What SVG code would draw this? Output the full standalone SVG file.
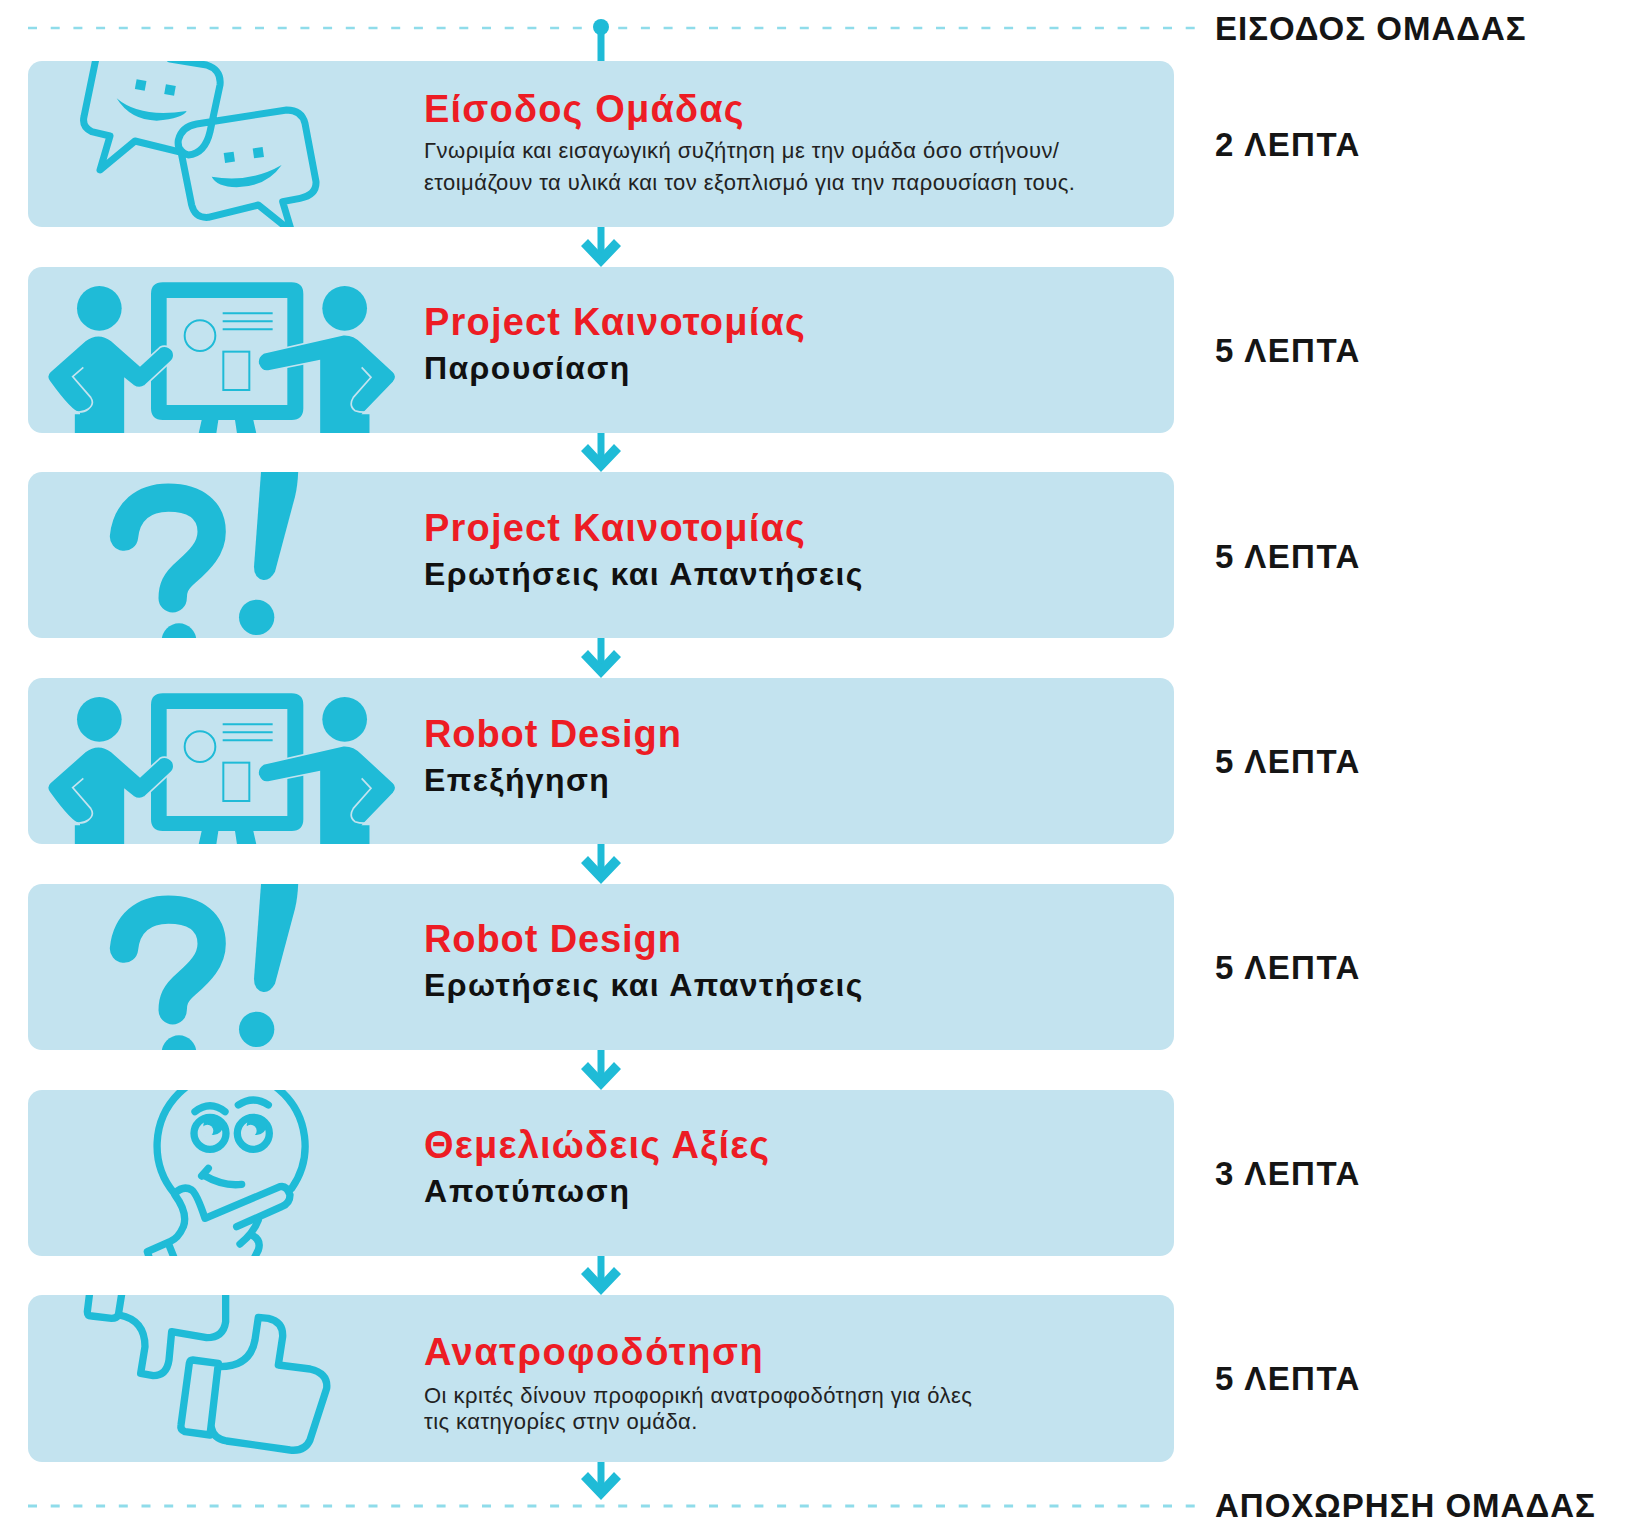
<svg xmlns="http://www.w3.org/2000/svg" xmlns:xlink="http://www.w3.org/1999/xlink" width="1632" height="1519" viewBox="0 0 1632 1519">
<style>
text{font-family:"Liberation Sans",Arial,sans-serif}
.box{fill:#c3e3ef}
.t{font-size:38px;font-weight:700;fill:#ed1c24;letter-spacing:1.2px}
.s{font-size:32px;font-weight:700;fill:#111;letter-spacing:1.4px}
.d{font-size:22px;fill:#222;letter-spacing:.45px}
.r{font-size:33px;font-weight:700;fill:#151515;letter-spacing:1px}
.m{letter-spacing:1.45px}
.i{fill:#1fbbd7}
.o{fill:none;stroke:#1fbbd7;stroke-linejoin:round;stroke-linecap:round}
.dash{fill:none;stroke:#8fdcea;stroke-dasharray:9 13.7}
.c{fill:none;stroke:#1fbbd7;stroke-width:7}
</style>
<defs>
<clipPath id="clip"><rect x="28" y="0" width="1146" height="166" rx="14"/></clipPath>
<marker id="arrow" markerUnits="userSpaceOnUse" markerWidth="44" markerHeight="34" viewBox="-22 -30 44 34" refX="0" refY="-4" orient="0"><polygon class="i" points="0,0 -20,-21 -13,-28 0,-14 13,-28 20,-21"/></marker>
<g id="people" transform="translate(0,-218) scale(0.33333)">
<circle class="i" cx="298" cy="778" r="67"/><circle class="i" cx="1034" cy="778" r="67"/>
<path class="i" d="M453,735Q453,700 488,700H875Q910,700 910,735V1078Q910,1113 875,1113H760L775,1180H715L705,1113H655L645,1180H590L605,1113H488Q453,1113 453,1078Z"/>
<rect class="box" x="500" y="747" width="362" height="321"/>
<g fill="none" stroke="#1fbbd7" stroke-width="6"><circle cx="600" cy="860" r="46"/><path d="M668,793H818M668,817H818M668,841H818"/><rect x="670" y="908" width="78" height="115"/></g>
<path class="i" stroke="#c3e3ef" stroke-width="5" d="M222,1180V1093H240Q215,1090 150,1000Q135,982 150,968L255,875Q295,845 335,875L420,950L480,895Q500,885 518,905Q528,925 510,940L435,1010Q418,1022 400,1010L375,990V1180Z"/>
<path class="i" stroke="#c3e3ef" stroke-width="5" d="M1111,1180V1093H1090L1180,1000Q1195,982 1180,968L1085,880Q1060,855 1030,857L790,912Q770,925 775,945Q785,970 805,966L958,935V1180Z"/>
<path d="M250,955L218,983L272,1045Q285,1065 265,1080Q250,1092 225,1088M1085,955L1113,985L1060,1045Q1045,1070 1065,1085Q1085,1092 1111,1088" fill="none" stroke="#c3e3ef" stroke-width="5"/>
</g>
<g id="qa" transform="translate(0,-12) scale(0.33333)">
<path class="o" style="stroke-width:85" d="M372,230C380,155 430,113 505,113C590,113 635,155 635,215C635,265 600,300 560,335C525,365 518,385 518,415"/>
<circle class="i" cx="537" cy="542" r="52"/><circle class="i" cx="770" cy="472" r="53"/>
<path class="i" d="M785,10H895Q895,70 885,110L825,335Q810,362 790,360Q762,355 762,320Z"/>
</g>
</defs>
<g id="connectors">
<path class="dash" stroke-width="2.5" d="M28,28H1196"/>
<path class="dash" stroke-width="3" d="M28,1506H1196"/>
<ellipse class="i" cx="601" cy="27" rx="8" ry="8"/>
<path class="c" d="M601,27V61"/>
<path class="c" marker-end="url(#arrow)" d="M601,227V263"/>
<path class="c" marker-end="url(#arrow)" d="M601,432V468"/>
<path class="c" marker-end="url(#arrow)" d="M601,638V674"/>
<path class="c" marker-end="url(#arrow)" d="M601,844V880"/>
<path class="c" marker-end="url(#arrow)" d="M601,1050V1086"/>
<path class="c" marker-end="url(#arrow)" d="M601,1256V1291"/>
<path class="c" marker-end="url(#arrow)" d="M601,1461V1496"/>
</g>
<g id="node-1" transform="translate(0,61)">
<rect class="box" x="28" width="1146" height="166" rx="14"/>
<g clip-path="url(#clip)">
<g transform="translate(60,-6) scale(0.33333)">
<g class="o" style="stroke-width:21">
<path d="M110,0L72,185Q65,215 95,230L150,243L120,345L225,258L355,290"/>
<path d="M330,12L440,30Q485,45 480,90L450,230Q435,295 385,300Q350,290 355,255Q365,215 410,207L680,165Q725,165 735,205L768,380Q770,420 720,430L668,440L695,530L595,450L445,487Q405,490 395,450L362,285"/>
</g>
<g class="i">
<rect x="227" y="75" width="30" height="30" transform="rotate(10 242 90)"/>
<rect x="315" y="90" width="30" height="30" transform="rotate(10 330 105)"/>
<rect x="493" y="292" width="30" height="30" transform="rotate(-8 508 307)"/>
<rect x="580" y="278" width="30" height="30" transform="rotate(-8 595 293)"/>
<path d="M170,130Q240,190 380,168Q370,190 290,197Q210,195 170,130Z"/>
<path d="M455,365Q570,385 665,330Q620,395 530,397Q470,395 455,365Z"/>
</g>
</g>
</g>
<text class="t" x="424" y="61">Είσοδος Ομάδας</text>
<text class="d" x="424" y="97">Γνωριμία και εισαγωγική συζήτηση με την ομάδα όσο στήνουν/</text>
<text class="d" x="424" y="129">ετοιμάζουν τα υλικά και τον εξοπλισμό για την παρουσίαση τους.</text>
</g>
<g id="node-2" transform="translate(0,267)">
<rect class="box" x="28" width="1146" height="166" rx="14"/>
<g clip-path="url(#clip)"><use href="#people"/></g>
<text class="t" x="424" y="68">Project Καινοτομίας</text>
<text class="s" x="424" y="112">Παρουσίαση</text>
</g>
<g id="node-3" transform="translate(0,472)">
<rect class="box" x="28" width="1146" height="166" rx="14"/>
<g clip-path="url(#clip)"><use href="#qa"/></g>
<text class="t" x="424" y="69">Project Καινοτομίας</text>
<text class="s" x="424" y="113">Ερωτήσεις και Απαντήσεις</text>
</g>
<g id="node-4" transform="translate(0,678)">
<rect class="box" x="28" width="1146" height="166" rx="14"/>
<g clip-path="url(#clip)"><use href="#people"/></g>
<text class="t" x="424" y="69" style="letter-spacing:.9px">Robot Design</text>
<text class="s" x="424" y="113">Επεξήγηση</text>
</g>
<g id="node-5" transform="translate(0,884)">
<rect class="box" x="28" width="1146" height="166" rx="14"/>
<g clip-path="url(#clip)"><use href="#qa"/></g>
<text class="t" x="424" y="68" style="letter-spacing:.9px">Robot Design</text>
<text class="s" x="424" y="112">Ερωτήσεις και Απαντήσεις</text>
</g>
<g id="node-6" transform="translate(0,1090)">
<rect class="box" x="28" width="1146" height="166" rx="14"/>
<g clip-path="url(#clip)">
<g transform="translate(60,-20) scale(0.33333)">
<g class="o" style="stroke-width:22">
<path d="M343,370A222,222 0 1 1 695,355"/>
<path d="M405,125Q450,90 495,125M535,105Q580,75 625,105"/>
<circle cx="450" cy="190" r="48"/><circle cx="580" cy="190" r="48"/>
<path d="M425,318L445,295M430,315Q490,350 545,343"/>
<path d="M345,370Q370,345 395,360Q410,370 435,445L660,350Q680,345 690,375Q690,400 665,410L530,470"/>
<path d="M345,375Q385,430 370,470Q355,505 330,515L262,545L270,570M325,520L345,570M595,450Q580,490 540,522M575,495Q605,510 595,540L580,570"/>
</g>
<circle class="i" cx="460" cy="165" r="30"/><circle class="i" cx="590" cy="165" r="30"/>
<circle class="box" cx="442" cy="182" r="18"/><circle class="box" cx="572" cy="182" r="18"/>
</g>
</g>
<text class="t" x="424" y="68">Θεμελιώδεις Αξίες</text>
<text class="s" x="424" y="112" style="letter-spacing:1.85px">Αποτύπωση</text>
</g>
<g id="node-7" transform="translate(0,1295)">
<rect class="box" x="28" width="1146" height="167" rx="14"/>
<g clip-path="url(#clip)">
<g class="o" style="stroke-width:22" transform="translate(60,-225) scale(0.33333)">
<path d="M90,660L82,725Q82,738 95,738L155,745Q170,745 175,735L187,660"/>
<path d="M178,735Q255,750 255,830L242,910L280,917Q320,917 327,870L335,785L440,803Q490,803 497,755V660"/>
<path d="M398,870L475,880L450,1095L375,1085Q360,1080 363,1065L388,880Q390,870 398,870Z"/>
<path d="M480,890Q570,890 585,810L595,742L625,745Q670,755 668,800L655,885L750,897Q805,910 800,955L750,1110Q735,1145 690,1140L500,1113Q460,1105 455,1075"/>
</g>
</g>
<text class="t" x="424" y="70" style="letter-spacing:1.5px">Ανατροφοδότηση</text>
<text class="d" x="424" y="108">Οι κριτές δίνουν προφορική ανατροφοδότηση για όλες</text>
<text class="d" x="424" y="134">τις κατηγορίες στην ομάδα.</text>
</g>
<g id="labels">
<text class="r" x="1215" y="40">ΕΙΣΟΔΟΣ ΟΜΑΔΑΣ</text>
<text class="r m" x="1215" y="156">2 ΛΕΠΤΑ</text>
<text class="r m" x="1215" y="362">5 ΛΕΠΤΑ</text>
<text class="r m" x="1215" y="568">5 ΛΕΠΤΑ</text>
<text class="r m" x="1215" y="773">5 ΛΕΠΤΑ</text>
<text class="r m" x="1215" y="979">5 ΛΕΠΤΑ</text>
<text class="r m" x="1215" y="1185">3 ΛΕΠΤΑ</text>
<text class="r m" x="1215" y="1390">5 ΛΕΠΤΑ</text>
<text class="r" x="1215" y="1517">ΑΠΟΧΩΡΗΣΗ ΟΜΑΔΑΣ</text>
</g>
</svg>
